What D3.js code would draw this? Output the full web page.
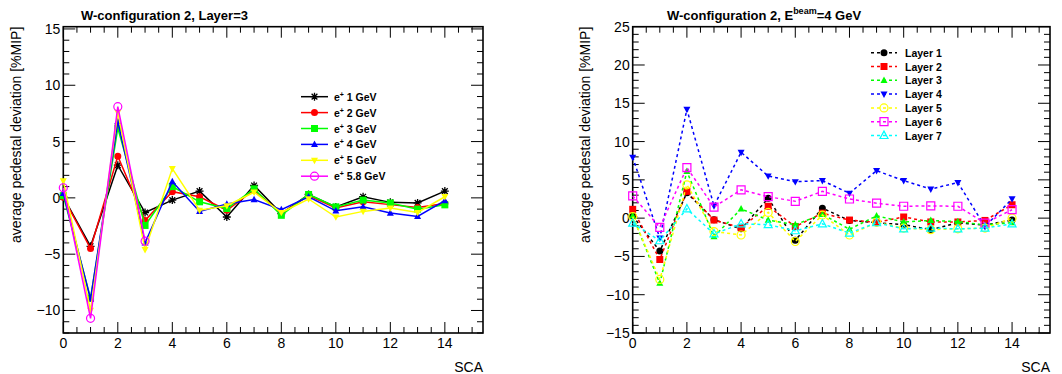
<!DOCTYPE html>
<html><head><meta charset="utf-8">
<script src="https://cdn.jsdelivr.net/npm/d3@7"></script>
<style>body{margin:0;background:#fff}svg{display:block}text{font-family:"Liberation Sans",Arial,sans-serif}</style>
</head><body><svg id="c" width="1062" height="374"></svg>
<script>
const sca = [0,1,2,3,4,5,6,7,8,9,10,11,12,13,14];
const xTicks = [0,2,4,6,8,10,12,14];

// Left panel: Layer 3, different energies
const leftNames = ["1 GeV","2 GeV","3 GeV","4 GeV","5 GeV","5.8 GeV"];
const e1  = [0.1,-4.3,2.9,-1.3,-0.2,0.6,-1.7,1.1,-1.4,0.3,-0.8,0.1,-0.4,-0.45,0.6];
const e2  = [0.05,-4.5,3.7,-2.0,0.55,0.1,-1.1,0.7,-1.4,0.2,-0.9,-0.35,-0.6,-0.85,-0.5];
const e3  = [0.2,-8.9,6.2,-2.45,1.0,-0.35,-0.95,0.8,-1.55,0.3,-0.8,-0.2,-0.45,-1.0,-0.62];
const e4  = [0.4,-9.0,6.8,-4.0,1.45,-1.2,-0.55,-0.15,-1.05,0.1,-1.15,-0.8,-1.35,-1.65,-0.25];
const e5  = [1.5,-10.0,7.6,-4.6,2.6,-1.1,-0.7,0.5,-1.3,-0.1,-1.7,-1.2,-0.9,-1.3,0.1];
const e58 = [0.9,-10.7,8.1,-3.85];
const leftYTicks = [-10,-5,0,5,10,15];

// Right panel: E=4 GeV, different layers
const rightNames = ["Layer 1","Layer 2","Layer 3","Layer 4","Layer 5","Layer 6","Layer 7"];
const L1 = [0.3,-4.3,3.3,-0.2,-1.4,2.6,-2.9,1.3,-0.3,-0.6,-0.85,-1.5,-0.6,-0.9,-0.25];
const L2 = [1.15,-5.4,3.5,-0.25,-1.25,1.55,-1.1,0.65,-0.25,-0.55,0.15,-0.5,-0.5,-0.3,1.75];
const L3 = [0.3,-8.5,6.1,-2.4,1.2,-0.25,-0.85,0.5,-1.45,0.3,-0.5,-0.3,-0.45,-0.9,-0.6];
const L4 = [7.95,-2.6,14.2,1.6,8.6,5.5,4.75,4.9,3.25,6.2,4.9,3.8,4.65,-1.1,2.5];
const L5 = [0.2,-8.0,4.35,-1.75,-2.2,0.75,-3.05,0.4,-2.2,-0.55,-1.3,-1.5,-1.4,-1.3,0.0];
const L6 = [2.9,-1.2,6.6,1.45,3.7,2.8,2.2,3.5,2.5,1.95,1.55,1.6,1.55,-0.65,1.1];
const L7 = [-0.65,-2.95,1.2,-2.05,-0.75,-0.85,-1.65,-0.75,-1.95,-0.6,-1.4,-1.3,-1.4,-1.3,-0.75];
const rightYTicks = [-15,-10,-5,0,5,10,15,20,25];

const svg = d3.select("#c");
const FONT = "14px";

function markerPath(type, s){
  const r = s/2;
  switch(type){
    case "star": return `M${-r},0H${r}M0,${-r}V${r}M${-r*0.72},${-r*0.72}L${r*0.72},${r*0.72}M${-r*0.72},${r*0.72}L${r*0.72},${-r*0.72}`;
    case "circle": return d3.symbol(d3.symbolCircle, s*s*0.785)();
    case "square": return `M${-r},${-r}H${r}V${r}H${-r}Z`;
    case "tup": return `M0,${-r*1.1}L${r},${r*0.75}L${-r},${r*0.75}Z`;
    case "tdown": return `M0,${r*1.1}L${r},${-r*0.75}L${-r},${-r*0.75}Z`;
  }
}
function drawMarker(g, x, y, st){
  const p = g.append("path").attr("transform",`translate(${x},${y})`).attr("d", markerPath(st.shape, st.size));
  if (st.shape==="star") p.attr("fill","none").attr("stroke",st.color).attr("stroke-width",1.3);
  else if (st.open) p.attr("fill","none").attr("stroke",st.color).attr("stroke-width",1.2);
  else p.attr("fill",st.color).attr("stroke","none");
}

function panel(cfg){
  const {x0,x1,y0,y1,ydom,yTicks,series,styles,dash,titleFn,ylabX,legend} = cfg;
  const x = d3.scaleLinear().domain([0,15.4]).range([x0,x1]);
  const y = d3.scaleLinear().domain(ydom).range([y1,y0]);
  const g = svg.append("g");
  // ticks (all four sides, inward)
  const xMinor = d3.range(0,15.4001,0.5);
  const yMinor = d3.range(Math.ceil(ydom[0]), ydom[1]+0.0001, 1);
  const tk = g.append("g").attr("stroke","#000").attr("stroke-width",1);
  xMinor.forEach(v=>{
    const major = Math.abs(v/2-Math.round(v/2))<1e-6;
    const L = major?11:6;
    tk.append("line").attr("x1",x(v)).attr("x2",x(v)).attr("y1",y1).attr("y2",y1-L);
    tk.append("line").attr("x1",x(v)).attr("x2",x(v)).attr("y1",y0).attr("y2",y0+L);
  });
  yMinor.forEach(v=>{
    const major = v%5===0;
    const L = major?12:6;
    tk.append("line").attr("y1",y(v)).attr("y2",y(v)).attr("x1",x0).attr("x2",x0+L);
    tk.append("line").attr("y1",y(v)).attr("y2",y(v)).attr("x1",x1).attr("x2",x1-L);
  });
  // frame
  g.append("rect").attr("x",x0).attr("y",y0).attr("width",x1-x0).attr("height",y1-y0)
    .attr("fill","none").attr("stroke","#000").attr("stroke-width",1.6);
  // tick labels
  xTicks.forEach(v=>{
    g.append("text").attr("x",x(v)).attr("y",y1+15).attr("text-anchor","middle")
      .style("font-size",FONT).text(v);
  });
  yTicks.forEach(v=>{
    g.append("text").attr("x",x0-3).attr("y",y(v)+5).attr("text-anchor","end")
      .style("font-size",FONT).text(v<0?"\u2212"+Math.abs(v):v);
  });
  // axis titles
  g.append("text").attr("x",x1).attr("y",372).attr("text-anchor","end").style("font-size",FONT).text("SCA");
  g.append("text").attr("transform",`translate(${ylabX},${y0}) rotate(-90)`).attr("text-anchor","end")
    .style("font-size",FONT).text("average pedestal deviation [%MIP]");
  titleFn(g);
  // series
  const line = d3.line().x(d=>x(d[0])).y(d=>y(d[1]));
  series.forEach((s,i)=>{
    const st = styles[i];
    const pts = s.map((v,j)=>[sca[j],v]);
    g.append("path").attr("d",line(pts)).attr("fill","none").attr("stroke",st.color)
      .attr("stroke-width",1.5).attr("stroke-dasharray",dash||null);
    pts.forEach(p=>drawMarker(g,x(p[0]),y(p[1]),st));
  });
  // legend
  styles.forEach((st,i)=>{
    const ly = legend.y + i*legend.dy;
    g.append("line").attr("x1",legend.lx0).attr("x2",legend.lx1).attr("y1",ly).attr("y2",ly)
      .attr("stroke",st.color).attr("stroke-width",1.5).attr("stroke-dasharray",dash||null);
    drawMarker(g,(legend.lx0+legend.lx1)/2,ly,st);
    legend.label(g.append("text").attr("x",legend.tx).attr("y",ly+4).style("font-size","10.5px").style("font-weight","bold"), i);
  });
}

panel({
  x0:63.3,x1:483,y0:26.7,y1:333,ydom:[-12,15.2],yTicks:leftYTicks,
  series:[e1,e2,e3,e4,e5,e58],
  styles:[
    {color:"#000000",shape:"star",size:8},
    {color:"#ff0000",shape:"circle",size:7},
    {color:"#00ff00",shape:"square",size:7},
    {color:"#0000ff",shape:"tup",size:7},
    {color:"#ffff00",shape:"tdown",size:7},
    {color:"#ff00ff",shape:"circle",size:8,open:true}
  ],
  dash:null, ylabX:21,
  titleFn:g=>g.append("text").attr("x",81).attr("y",20).style("font-size","13px").style("font-weight","bold").text("W-configuration 2, Layer=3"),
  legend:{y:96.7,dy:15.9,lx0:301,lx1:328,tx:334,label:(t,i)=>{
    t.append("tspan").text("e");
    t.append("tspan").attr("dy",-4).style("font-size","7px").text("+");
    t.append("tspan").attr("dy",4).text(" "+leftNames[i]);
  }}
});

panel({
  x0:632.7,x1:1050,y0:26.7,y1:333,ydom:[-15,25],yTicks:rightYTicks,
  series:[L1,L2,L3,L4,L5,L6,L7],
  styles:[
    {color:"#000000",shape:"circle",size:7},
    {color:"#ff0000",shape:"square",size:7},
    {color:"#00ff00",shape:"tup",size:7},
    {color:"#0000ff",shape:"tdown",size:7},
    {color:"#ffff00",shape:"circle",size:8,open:true},
    {color:"#ff00ff",shape:"square",size:8,open:true},
    {color:"#00ffff",shape:"tup",size:8,open:true}
  ],
  dash:"3,3", ylabX:590,
  titleFn:g=>{
    const t = g.append("text").attr("x",667).attr("y",20).style("font-size","13px").style("font-weight","bold");
    t.append("tspan").text("W-configuration 2, E");
    t.append("tspan").attr("dy",-6).style("font-size","9px").text("beam");
    t.append("tspan").attr("dy",6).text("=4 GeV");
  },
  legend:{y:52.7,dy:13.8,lx0:871,lx1:897,tx:905,label:(t,i)=>t.text(rightNames[i])}
});
</script></body></html>
